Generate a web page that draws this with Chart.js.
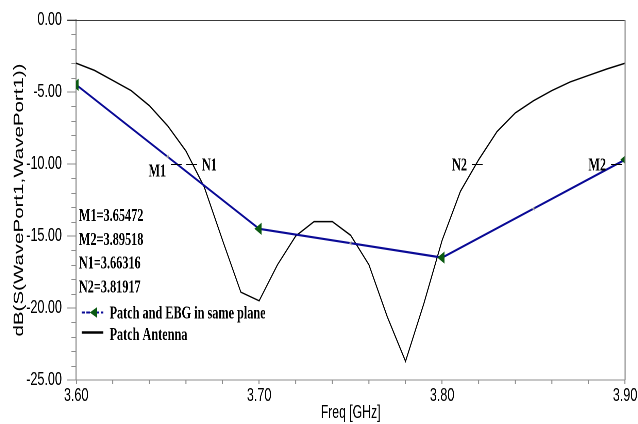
<!DOCTYPE html>
<html><head><meta charset="utf-8">
<script src="https://cdn.jsdelivr.net/npm/chart.js@4.4.1/dist/chart.umd.min.js"></script>
<style>
html,body{margin:0;padding:0;background:#fff;overflow:hidden;}
#outer{width:638px;height:424px;overflow:hidden;position:relative;background:#fff;}
#wrap{width:938px;height:424px;transform:scaleX(0.68017);transform-origin:0 0;}
</style></head><body>
<div id="outer"><div id="wrap"><canvas id="c" width="938" height="424"></canvas></div></div>
<script>
// ---- data ----
const freqEBG = [3.60, 3.65, 3.70, 3.75, 3.80, 3.85, 3.90];
const dbEBG   = [-4.5, -9.5, -14.5, -15.5, -16.5, -13.1, -9.7];
const freqPatch = [3.60,3.61,3.62,3.63,3.64,3.65,3.66,3.67,3.68,3.69,3.70,3.71,3.72,3.73,3.74,3.75,3.76,3.77,3.78,3.79,3.80,3.81,3.82,3.83,3.84,3.85,3.86,3.87,3.88,3.89,3.90];
const dbPatch   = [-3.0,-3.5,-4.2,-4.9,-5.95,-7.35,-9.1,-11.6,-15.3,-18.9,-19.5,-17.0,-15.0,-14.0,-14.0,-14.95,-17.0,-20.6,-23.7,-19.7,-15.3,-11.9,-9.7,-7.75,-6.45,-5.6,-4.9,-4.3,-3.85,-3.4,-3.0];
const xTicks = [3.60, 3.70, 3.80, 3.90];
const yTicks = [-25, -20, -15, -10, -5, 0];
const markerNames = ['M1', 'M2', 'N1', 'N2'];
const markerFreqs = [3.65472, 3.89518, 3.66316, 3.81917];
const markerDb    = [-10, -10, -10, -10];
const seriesNames = ['Patch and EBG in same plane', 'Patch Antenna'];
const xTitle = 'Freq [GHz]';
const yTitle = 'dB(S(WavePort1,WavePort1))';

// ---- styles ----
const BLUE = '#0a0a96';
const GREEN = '#0b5a12';
const AXIS = '#8c8c8c';
const SERIF = 'bold 18px "Liberation Serif", "Times New Roman", serif';
const isMajor = f => xTicks.some(t => Math.abs(t - f) < 1e-6);

const decor = {
  id: 'decor',
  afterDraw(chart) {
    const ctx = chart.ctx;
    const {left, right, top, bottom} = chart.chartArea;
    const xs = chart.scales.x, ys = chart.scales.y;
    ctx.save();
    // frame top / right
    ctx.strokeStyle = '#3a3a3a'; ctx.lineWidth = 1;
    ctx.beginPath(); ctx.moveTo(left - 13, top + 0.5); ctx.lineTo(right, top + 0.5); ctx.stroke();
    ctx.strokeStyle = AXIS; ctx.lineWidth = 1.6;
    ctx.beginPath(); ctx.moveTo(right, top); ctx.lineTo(right, bottom); ctx.stroke();
    // minor ticks y
    ctx.lineWidth = 1;
    for (let i = 0; i < yTicks.length - 1; i++) {
      const a = yTicks[i], b = yTicks[i + 1];
      for (let k = 1; k < 5; k++) {
        const y = Math.round(ys.getPixelForValue(a + (b - a) * k / 5)) + 0.5;
        ctx.beginPath(); ctx.moveTo(left - 7, y); ctx.lineTo(left, y); ctx.stroke();
      }
    }
    // minor ticks x
    ctx.lineWidth = 1.5;
    for (let i = 0; i < xTicks.length - 1; i++) {
      const a = xTicks[i], b = xTicks[i + 1];
      for (let k = 1; k < 5; k++) {
        const x = xs.getPixelForValue(a + (b - a) * k / 5);
        ctx.beginPath(); ctx.moveTo(x, bottom); ctx.lineTo(x, bottom + 4); ctx.stroke();
      }
    }
    // marker labels on the plot
    const side = {M1: 'left', M2: 'left', N1: 'right', N2: 'left'};
    const lift = {M1: 6, M2: 0, N1: 0, N2: 0};
    ctx.font = SERIF; ctx.fillStyle = '#000'; ctx.strokeStyle = '#000'; ctx.lineWidth = 1;
    ctx.textBaseline = 'alphabetic';
    markerNames.forEach((n, i) => {
      const px = xs.getPixelForValue(markerFreqs[i]);
      const py = Math.round(ys.getPixelForValue(markerDb[i])) + 0.5;
      ctx.beginPath(); ctx.moveTo(px - 8, py); ctx.lineTo(px + 8, py); ctx.stroke();
      if (side[n] === 'left') { ctx.textAlign = 'right'; ctx.fillText(n, px - 15, py + 6 + lift[n]); }
      else { ctx.textAlign = 'left'; ctx.fillText(n, px + 15, py + 6); }
    });
    // marker value list
    ctx.textAlign = 'left';
    markerNames.forEach((n, i) => {
      ctx.fillText(n + '=' + markerFreqs[i].toFixed(5), left + 4, 221 + i * 23.8);
    });
    // legend
    const lx0 = left + 8, lx1 = left + 40;
    ctx.strokeStyle = BLUE; ctx.lineWidth = 2; ctx.setLineDash([5, 2]);
    ctx.beginPath(); ctx.moveTo(lx0, 312.5); ctx.lineTo(lx1, 312.5); ctx.stroke();
    ctx.setLineDash([]);
    ctx.fillStyle = GREEN;
    ctx.beginPath(); ctx.moveTo(lx0 + 12, 312.5); ctx.lineTo(lx0 + 23, 307); ctx.lineTo(lx0 + 23, 318); ctx.closePath(); ctx.fill();
    ctx.strokeStyle = '#000'; ctx.lineWidth = 2.5;
    ctx.beginPath(); ctx.moveTo(lx0, 332.5); ctx.lineTo(lx1, 332.5); ctx.stroke();
    ctx.fillStyle = '#000';
    ctx.fillText(seriesNames[0], left + 49, 318.5);
    ctx.fillText(seriesNames[1], left + 49, 340);
    ctx.restore();
  }
};

new Chart(document.getElementById('c'), {
  type: 'line',
  data: {
    datasets: [
      {
        label: seriesNames[0],
        data: freqEBG.map((f, i) => ({x: f, y: dbEBG[i]})),
        borderColor: BLUE, borderWidth: 2.2, tension: 0,
        pointStyle: 'triangle', rotation: -90,
        pointRadius: freqEBG.map(f => isMajor(f) ? 6 : 1.5),
        pointBackgroundColor: freqEBG.map(f => isMajor(f) ? GREEN : '#999'),
        pointBorderColor: freqEBG.map(f => isMajor(f) ? GREEN : '#999'),
        pointBorderWidth: 1
      },
      {
        label: seriesNames[1],
        data: freqPatch.map((f, i) => ({x: f, y: dbPatch[i]})),
        borderColor: '#000', borderWidth: 1.5, tension: 0,
        pointRadius: 0
      }
    ]
  },
  options: {
    responsive: false, animation: false, devicePixelRatio: 2,
    layout: {padding: {left: 0, right: 19, top: 20, bottom: 0}},
    plugins: {legend: {display: false}, tooltip: {enabled: false}},
    scales: {
      x: {
        type: 'linear', min: 3.6, max: 3.9,
        afterBuildTicks: s => { s.ticks = xTicks.map(v => ({value: v})); },
        afterFit: s => { s.height = 44; },
        ticks: {callback: v => Number(v).toFixed(2), color: '#000', padding: 1, maxRotation: 0,
                font: {family: '"Liberation Sans", Arial, sans-serif', size: 18.5}},
        grid: {drawOnChartArea: false, tickLength: 4, color: AXIS, lineWidth: 1.5},
        border: {color: AXIS, width: 1},
        title: {display: true, text: xTitle, color: '#000', padding: {top: 0, bottom: 0},
                font: {family: '"Liberation Sans", Arial, sans-serif', size: 18}}
      },
      y: {
        type: 'linear', min: -25, max: 0,
        afterBuildTicks: s => { s.ticks = yTicks.map(v => ({value: v})); },
        afterFit: s => { s.width = 112; },
        ticks: {callback: v => Number(v).toFixed(2), color: '#000', padding: 8,
                font: {family: '"Liberation Sans", Arial, sans-serif', size: 18.5}},
        grid: {drawOnChartArea: false, tickLength: 13, color: AXIS, lineWidth: 1},
        border: {color: AXIS, width: 1.6},
        title: {display: true, text: yTitle, color: '#000', padding: {top: 16, bottom: 0},
                font: {family: '"Liberation Sans", Arial, sans-serif', size: 20.5}}
      }
    }
  },
  plugins: [decor]
});
</script>
</body></html>
